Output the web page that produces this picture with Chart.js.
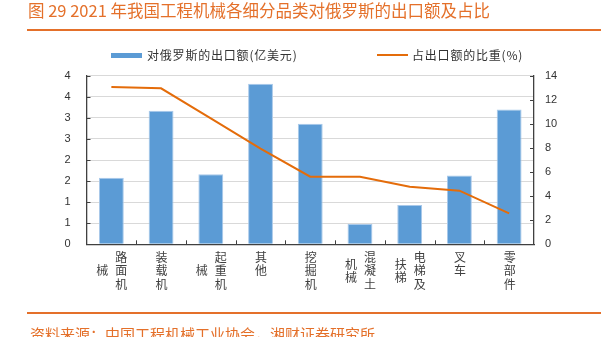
<!DOCTYPE html>
<html>
<head>
<meta charset="utf-8">
<script src="https://cdn.jsdelivr.net/npm/chart.js@4/dist/chart.umd.min.js"></script>
<style>
html,body{margin:0;padding:0;background:#fff;}
#wrap{position:relative;width:601px;height:337px;overflow:hidden;font-family:"Noto Sans CJK SC",sans-serif;}
#chart{position:absolute;left:0;top:0;}
#title{position:absolute;left:28px;top:0;height:20px;line-height:20px;font-size:16.5px;color:#E4702A;white-space:nowrap;}
.rule{position:absolute;left:27px;right:0;height:2px;background:#E4702A;}
#legend{position:absolute;left:0;top:47px;width:601px;height:16px;font-size:12px;color:#333;}
.lg{position:absolute;top:0;height:16px;line-height:16px;white-space:nowrap;letter-spacing:0.8px;}
.sw{position:absolute;}
#source{position:absolute;left:30px;top:325px;font-size:15px;line-height:18px;color:#E4702A;white-space:nowrap;}
</style>
</head>
<body>
<div id="wrap">
  <canvas id="chart" width="601" height="337"></canvas>
  <div id="title">图 29 2021 年我国工程机械各细分品类对俄罗斯的出口额及占比</div>
  <div class="rule" style="top:29px"></div>
  <div id="legend"></div>
  <div class="rule" style="top:312px"></div>
  <div id="source">资料来源：中国工程机械工业协会，湘财证券研究所</div>
</div>
<script>
const categories = ['路面机械','装载机','起重机械','其他','挖掘机','混凝土机械','电梯及扶梯','叉车','零部件'];
const exportValues = [1.58, 3.17, 1.66, 3.81, 2.86, 0.48, 0.93, 1.63, 3.20];
const shareValues = [13.06, 12.95, 10.45, 7.95, 5.61, 5.61, 4.78, 4.45, 2.57];
const seriesNames = ['对俄罗斯的出口额(亿美元)', '占出口额的比重(%)'];
const barColor = '#5B9BD5';
const lineColor = '#E46C0A';

// HTML legend
const lg = document.getElementById('legend');
lg.innerHTML =
  '<div class="sw" style="left:111px;top:6px;width:31px;height:5px;background:'+barColor+'"></div>' +
  '<div class="lg" style="left:147px">'+seriesNames[0]+'</div>' +
  '<div class="sw" style="left:377px;top:7px;width:31px;height:2px;background:'+lineColor+'"></div>' +
  '<div class="lg" style="left:412px">'+seriesNames[1]+'</div>';

const decor = {
  id: 'decor',
  afterDraw(chart) {
    const {ctx, chartArea: a, scales} = chart;
    ctx.save();
    ctx.strokeStyle = '#404040';
    ctx.lineWidth = 1;
    const seg = (x1, y1, x2, y2) => { ctx.beginPath(); ctx.moveTo(x1, y1); ctx.lineTo(x2, y2); ctx.stroke(); };
    scales.y.ticks.forEach((t, i) => {
      const y = Math.round(scales.y.getPixelForTick(i)) + 0.5;
      seg(a.left, y, a.left + 4, y);
    });
    scales.y1.ticks.forEach((t, i) => {
      const y = Math.round(scales.y1.getPixelForTick(i)) + 0.5;
      seg(a.right - 4, y, a.right, y);
    });
    const xs = scales.x;
    for (let i = 1; i < categories.length; i++) {
      const px = Math.round((xs.getPixelForValue(i - 1) + xs.getPixelForValue(i)) / 2) + 0.5;
      seg(px, a.bottom - 4, px, a.bottom);
    }
    // vertical stacked category labels
    ctx.font = '12px "Noto Sans CJK SC"';
    ctx.fillStyle = '#404040';
    ctx.textAlign = 'center';
    ctx.textBaseline = 'middle';
    const gap = 19, rowH = 13.5;
    categories.forEach((name, i) => {
      const chars = [...name];
      const cols = [];
      for (let k = 0; k < chars.length; k += 3) cols.push(chars.slice(k, k + 3));
      const cx = xs.getPixelForValue(i) + 0.5;
      cols.forEach((col, c) => {
        const colX = cx + ((cols.length - 1) / 2 - c) * gap;
        const start = c === 0 ? 0 : (3 - col.length) / 2;
        col.forEach((ch, r) => ctx.fillText(ch, colX, a.bottom + 13 + (start + r) * rowH));
      });
    });
    ctx.restore();
  }
};

const tickFont = {family: '"Liberation Sans", Arial, sans-serif', size: 11};

new Chart(document.getElementById('chart'), {
  type: 'bar',
  data: {
    labels: categories,
    datasets: [
      {
        type: 'line',
        label: seriesNames[1],
        data: shareValues,
        yAxisID: 'y1',
        borderColor: lineColor,
        backgroundColor: lineColor,
        borderWidth: 2,
        pointRadius: 0,
        tension: 0,
        order: 0
      },
      {
        type: 'bar',
        label: seriesNames[0],
        data: exportValues,
        yAxisID: 'y',
        backgroundColor: barColor,
        borderColor: '#a9c9ea',
        borderWidth: 1,
        barPercentage: 0.5,
        categoryPercentage: 1.0,
        order: 1
      }
    ]
  },
  plugins: [decor],
  options: {
    responsive: false,
    animation: false,
    devicePixelRatio: 1,
    layout: {padding: {left: 63.5, right: 43, top: 75.7, bottom: 92.7}},
    plugins: {legend: {display: false}, title: {display: false}, tooltip: {enabled: false}},
    scales: {
      x: {
        offset: true,
        grid: {display: false, drawTicks: false},
        border: {display: true, color: '#404040', width: 1.3},
        ticks: {display: false},
        afterFit(s) { s.height = 0; }
      },
      y: {
        position: 'left',
        min: 0, max: 4,
        ticks: {stepSize: 0.5, padding: 16, color: '#333', font: tickFont, callback: v => String(Math.round(v))},
        grid: {color: '#d9d9d9', lineWidth: 1, drawTicks: false},
        border: {display: true, color: '#404040', width: 1.3},
        afterFit(s) { s.width = 23; }
      },
      y1: {
        position: 'right',
        min: 0, max: 14,
        ticks: {stepSize: 2, padding: 11, color: '#333', font: tickFont},
        grid: {drawOnChartArea: false, drawTicks: false},
        border: {display: true, color: '#404040', width: 1.3},
        afterFit(s) { s.width = 24; }
      }
    }
  }
});
</script>
</body>
</html>
